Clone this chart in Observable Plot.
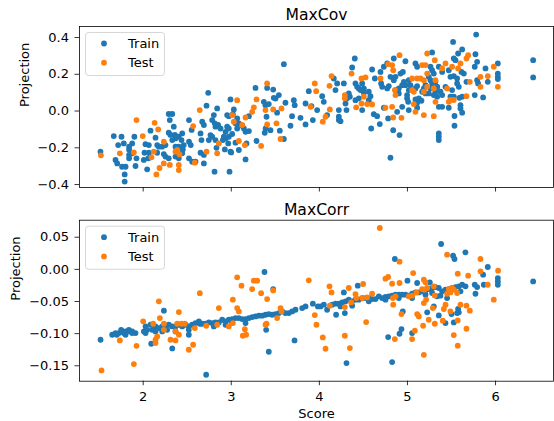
<!DOCTYPE html>
<html><head><meta charset="utf-8">
<script src="https://cdn.jsdelivr.net/npm/d3@7"></script>
<script src="https://cdn.jsdelivr.net/npm/@observablehq/plot@0.6"></script>
<style>
body{margin:0;background:#fff;}
#chart svg{display:block;}
</style></head><body><div id="chart"></div>
<script>
const seriesNames = ["Train", "Test"];
const seriesColors = ["#1f77b4", "#ff7f0e"];
const xTicks = [2, 3, 4, 5, 6];
const covTicks = [-0.4, -0.2, 0, 0.2, 0.4];
const corrTicks = [-0.15, -0.10, -0.05, 0, 0.05];
const panelTitles = ["MaxCov", "MaxCorr"];
const xLabel = "Score";
const yLabel = "Projection";

// MaxCov panel: [score, projection]
const covTrain = [
[1.515,-0.221],[1.666,-0.136],[1.754,-0.14],[1.716,-0.185],[1.78,-0.176],[1.686,-0.266],[1.705,-0.285],[1.76,-0.303],[1.80,-0.303],[1.79,-0.345],[1.79,-0.384],[1.84,-0.21],[1.84,-0.239],[1.84,-0.257],[1.84,-0.194],[1.875,-0.23],[1.875,-0.176],[1.90,-0.14],[1.924,-0.257],[1.913,-0.299],
[2.015,-0.227],[2.007,-0.266],[2.045,-0.317],[2.026,-0.18],[2.064,-0.185],[2.064,-0.227],[2.083,-0.252],[2.057,-0.257],[2.083,-0.107],[2.14,-0.145],[2.159,-0.185],[2.177,-0.194],[2.159,-0.227],[2.234,-0.234],[2.215,-0.194],[2.253,-0.185],[2.29,-0.016],[2.33,-0.016],[2.302,-0.049],[2.29,-0.118],
[2.31,-0.13],[2.347,-0.085],[2.36,-0.13],[2.367,-0.149],[2.33,-0.158],[2.253,-0.248],[2.29,-0.257],[2.404,-0.14],[2.435,-0.158],[2.443,-0.122],[2.367,-0.194],[2.404,-0.194],[2.46,-0.185],[2.45,-0.209],[2.367,-0.248],[2.404,-0.257],[2.443,-0.23],[2.52,-0.049],[2.55,-0.103],[2.52,-0.167],
[2.54,-0.185],[2.52,-0.257],[2.556,-0.276],[2.594,-0.276],
[3.597,0.255],[3.407,0.126],[3.275,0.126],[3.476,0.117],[3.54,0.087],[3.502,0.068],[3.483,0.072],[3.88,0.108],[2.738,0.099],[2.991,0.063],[3.37,0.050],[3.388,0.032],[3.426,0.038],[3.52,-0.009],[3.615,0.045],[3.71,0.059],[3.72,0.032],[3.843,0.041],[3.91,0.027],[3.975,0.005],
[3.69,-0.028],[3.786,-0.037],[3.926,-0.049],[3.843,-0.073],[3.672,-0.08],[3.40,-0.031],[3.445,-0.104],[3.39,-0.095],[3.38,-0.118],[3.551,-0.107],[3.597,-0.152],[3.286,-0.163],[3.173,-0.176],[3.162,-0.263],[3.086,-0.212],[2.991,-0.221],[2.927,-0.209],[2.965,-0.176],[3.048,-0.172],[2.935,-0.149],
[2.904,-0.158],[2.972,-0.14],[3.01,-0.125],[2.832,-0.2],[2.821,-0.158],[2.783,-0.14],[2.764,-0.131],[2.745,-0.158],[2.651,-0.227],[2.689,-0.239],[2.689,-0.285],[2.81,-0.33],[2.98,-0.33],[2.999,-0.225],[2.662,-0.158],[2.651,-0.122],[2.689,-0.076],[2.67,-0.058],[2.719,0.029],[2.84,0.014],
[2.802,-0.022],[2.813,-0.067],[2.821,-0.085],[2.851,-0.076],[2.878,-0.095],[2.783,-0.049],[2.953,-0.022],[2.972,-0.028],[3.029,0.009],[3.018,-0.017],[3.067,-0.04],[3.086,-0.067],[3.124,-0.08],[3.143,-0.095],[3.162,-0.113],[3.2,-0.109],[3.2,-0.028],[3.067,-0.095],[3.048,-0.067],[2.953,-0.085],
[2.935,-0.113],[2.972,-0.095],[2.916,-0.14],
[4.807,-0.254],[4.91,-0.131],[4.838,-0.104],[4.588,-0.095],[4.686,-0.071],[4.618,-0.017],[4.656,-0.028],[4.781,-0.04],[5.356,-0.122],[5.356,-0.14],[5.356,-0.158],[5.11,0.018],[5.015,0.005],[4.94,0.023],[4.883,-0.004],[4.732,0.018],[4.486,0.005],[4.561,0.059],[4.41,0.059],[4.297,0.041],
[4.308,0.005],[4.221,0.005],[4.221,-0.031],[4.221,-0.049],[4.24,-0.055],[4.088,-0.022],[4.05,0.05],[4.032,0.081],[4.164,0.177],[4.202,0.15],[4.183,0.114],[4.315,0.069],[4.334,0.096],[4.346,0.078],[4.278,0.15],[4.372,0.237],[4.402,0.286],[4.41,0.15],[4.429,0.132],[4.448,0.123],
[4.467,0.114],[4.486,0.15],[4.505,0.123],[4.561,0.105],[4.58,0.081],[4.505,0.099],[4.448,0.069],[4.599,0.226],[4.63,0.177],[4.701,0.15],[4.713,0.132],[4.694,0.213],[4.732,0.241],[4.77,0.259],[4.845,0.286],[4.977,0.271],[4.807,0.186],[4.845,0.168],[4.864,0.186],[4.921,0.204],
[4.948,0.213],[4.77,0.123],[4.788,0.136],[4.864,0.114],[4.902,0.123],[4.902,0.096],[4.94,0.141],[4.959,0.159],[4.977,0.141],[5.015,0.168],[5.034,0.141],[5.015,0.114],[4.996,0.087],[5.091,0.123],[5.11,0.136],[5.129,0.069],[5.091,0.063],[4.996,0.069],[5.008,0.05],[5.11,0.045],
[5.159,0.056],[5.167,0.105],[5.186,0.123],[5.091,0.259],[5.11,0.241],[5.28,0.319],[5.261,0.241],[5.28,0.222],[5.299,0.204],[5.242,0.186],[5.261,0.168],[5.28,0.15],[5.205,0.141],[5.261,0.123],[5.318,0.159],[5.337,0.132],[5.318,0.105],[5.299,0.087],[5.337,0.078],[5.242,0.096],
[5.205,0.096],[5.356,0.023],
[5.78,0.416],[5.518,0.376],[5.621,0.335],[5.575,0.313],[5.772,0.309],[5.791,0.268],[5.764,0.241],[6.026,0.259],[6.427,0.277],[6.427,0.183],[5.886,0.232],[6.026,0.204],[6.026,0.186],[6.026,0.174],[5.912,0.159],[5.791,0.168],[5.802,0.15],[5.764,0.087],[5.859,0.074],[5.67,0.159],
[5.64,0.204],[5.613,0.213],[5.545,0.277],[5.526,0.286],[5.469,0.222],[5.488,0.186],[5.526,0.19],[5.564,0.177],[5.356,0.241],[5.394,0.213],[5.432,0.132],[5.337,0.132],[5.375,0.105],[5.394,0.087],[5.507,0.114],[5.526,0.078],[5.488,0.078],[5.564,0.15],[5.583,0.132],[5.59,0.072],
[5.621,0.078],[5.469,0.018],[5.394,0.023],[5.602,0.032],[5.602,0.014],[5.621,-0.009],[5.534,-0.027],[5.534,-0.08]
];
const covTest = [
[1.52,-0.241],[1.735,-0.23],[1.894,-0.225],[1.924,-0.049],[1.995,-0.136],[2.094,-0.252],[2.12,-0.221],[2.13,-0.064],[2.17,-0.1],[2.15,-0.345],[2.185,-0.31],[2.234,-0.285],[2.234,-0.167],[2.302,-0.293],[2.404,-0.293],[2.404,-0.321],[2.367,-0.221],[2.386,-0.212],[2.412,-0.236],[2.567,-0.082],
[2.586,-0.281],[2.642,0.005],
[3.407,0.150],[3.948,0.150],[3.964,0.108],[3.067,0.059],[3.286,0.063],[3.256,0.020],[3.237,-0.004],[3.388,0.005],[3.476,0.009],[3.57,0.014],[3.9,0.023],[3.513,-0.067],[3.407,-0.073],[3.559,-0.152],[3.339,-0.19],[3.086,-0.163],[3.154,-0.185],[2.859,-0.176],
[2.84,-0.23],[2.719,-0.221],[3.01,-0.022],[3.029,-0.058],[3.124,-0.076],[3.162,-0.035],
[4.838,-0.035],[4.932,-0.037],[5.186,-0.022],[5.299,-0.028],[5.091,-0.004],[4.826,0.023],[4.75,0.018],[4.418,0.02],[4.478,0.041],[4.542,0.038],[4.599,0.036],[4.119,0.009],[4.07,-0.031],[4.039,-0.058],[4.115,0.137],[4.138,0.19],[4.289,0.087],[4.289,0.069],[4.365,0.204],[4.478,0.177],
[4.524,0.183],[4.505,0.078],[4.694,0.177],[4.781,0.255],[4.826,0.250],[4.91,0.304],[4.838,0.222],[4.864,0.087],[4.857,0.114],[5.053,0.177],[5.053,0.114],[5.072,0.105],[5.072,0.038],[5.148,0.177],[5.11,0.177],[5.186,0.168],[5.167,0.250],[5.205,0.25],[5.224,0.313],[5.31,0.277],
[5.224,0.204],[5.224,0.132],[5.318,0.05],[5.186,0.105],[5.299,0.123],
[5.689,0.304],[5.67,0.286],[5.98,0.241],[6.026,0.132],[5.912,0.19],[5.829,0.186],[5.829,0.132],[5.708,0.159],[5.602,0.259],[5.575,0.232],[5.507,0.241],[5.432,0.259],[5.394,0.232],[5.318,0.168],[5.45,0.123],[5.488,0.06],[5.526,0.06],[5.469,0.05],[5.67,0.081]
];

// MaxCorr panel: [score, projection]
const corrTrain = [
[1.516,-0.1095],[1.648,-0.1017],[1.686,-0.0991],[1.724,-0.0991],[1.762,-0.0965],[1.80,-0.0965],[1.837,-0.094],[1.875,-0.0965],[1.913,-0.0991],[1.80,-0.1017],[1.875,-0.0991],[1.70,-0.1017],[1.75,-0.094],[1.85,-0.0965],[1.78,-0.099],
[2.008,-0.0965],[2.027,-0.0887],[2.045,-0.094],[2.083,-0.0862],[2.102,-0.094],[2.14,-0.0887],[2.178,-0.0913],[2.216,-0.0887],[2.254,-0.0887],[2.291,-0.0862],[2.33,-0.0887],[2.367,-0.0887],[2.405,-0.0862],[2.443,-0.0887],[2.481,-0.0862],[2.518,-0.0887],[2.556,-0.0862],[2.594,-0.0836],[2.632,-0.081],
[2.027,-0.0991],[2.14,-0.0965],[2.216,-0.0965],[2.272,-0.094],[2.367,-0.0965],[2.518,-0.094],[2.235,-0.0643],[2.091,-0.1157],[2.33,-0.123],[2.518,-0.1017],[2.643,-0.0846],
[3.377,-0.0041],[3.476,-0.0306],[3.926,-0.0534],[3.983,-0.0576],[3.843,-0.0576],[3.805,-0.0602],[3.729,-0.0628],[3.691,-0.0654],[3.653,-0.068],[3.615,-0.068],[3.578,-0.0654],[3.54,-0.068],[3.502,-0.0695],[3.464,-0.0706],[3.426,-0.0695],[3.389,-0.0706],
[3.351,-0.0721],[3.313,-0.0721],[3.275,-0.0732],[3.237,-0.0742],[3.2,-0.0758],[3.162,-0.0773],[3.124,-0.0773],[3.086,-0.0758],[3.048,-0.0758],[3.01,-0.0773],[2.972,-0.0784],[2.935,-0.081],[2.897,-0.0784],[2.859,-0.0825],[2.821,-0.0825],[2.783,-0.0836],[2.745,-0.0825],[2.708,-0.0846],[2.67,-0.0846],
[3.01,-0.0825],[2.935,-0.0862],[3.162,-0.0836],[2.802,-0.0887],[3.396,-0.094],[3.426,-0.1282],[3.718,-0.1105],[2.715,-0.164],
[4.857,0.0161],[5.0,-0.0176],[5.254,-0.0202],[5.11,-0.0212],[4.436,-0.0254],[4.278,-0.0358],
[4.013,-0.0576],[4.051,-0.055],[4.088,-0.0628],[4.145,-0.055],[4.183,-0.0534],[4.221,-0.0534],[4.259,-0.0514],[4.297,-0.0498],[4.334,-0.0472],[4.372,-0.0498],[4.41,-0.0472],[4.448,-0.0472],[4.486,-0.0446],[4.524,-0.0446],[4.561,-0.0446],[4.599,-0.0462],[4.637,-0.0462],[4.675,-0.042],[4.713,-0.0446],[4.751,-0.043],
[4.788,-0.042],[4.826,-0.041],[4.864,-0.0394],[4.902,-0.0394],[4.94,-0.0394],[4.977,-0.0394],[5.015,-0.041],[5.053,-0.0379],[5.091,-0.0358],[5.129,-0.0358],[5.167,-0.0342],[5.205,-0.0327],[5.242,-0.0306],[5.28,-0.029],[5.318,-0.0275],[5.356,-0.029],
[4.24,-0.0576],[4.372,-0.0565],[4.561,-0.0498],[4.751,-0.0472],[4.902,-0.0446],[5.053,-0.0446],[5.205,-0.0394],[5.28,-0.0368],[5.299,-0.0576],[5.224,-0.0669],[4.947,-0.0654],[5.053,-0.0991],[4.932,-0.0929],[4.91,-0.1002],[4.781,-0.1053],[4.826,-0.1443],[4.308,-0.1458],[4.19,-0.0706],[4.289,-0.068],
[5.382,0.0395],[5.658,0.0265],[5.518,0.0213],[5.534,0.0161],[5.912,0.0037],[5.859,-0.0083],[6.026,-0.0135],[6.026,-0.0187],[6.026,-0.0239],[6.427,-0.0187],[5.867,-0.0239],[5.764,-0.0239],[5.791,-0.0275],[5.772,-0.0379],[5.394,-0.0342],[5.432,-0.0316],[5.469,-0.0306],[5.507,-0.029],[5.545,-0.0275],[5.583,-0.0264],
[5.621,-0.0239],[5.659,-0.0264],[5.602,-0.0342],[5.337,-0.042],[5.375,-0.041],[5.45,-0.0446],[5.575,-0.0617],[5.583,-0.0669],[5.564,-0.068],[5.356,-0.0716],[5.5,-0.0695],[5.432,-0.0836],[5.526,-0.0825]
];
const corrTest = [
[1.527,-0.1573],[1.735,-0.1105],[1.924,-0.119],[1.894,-0.1474],[2.0,-0.0809],[2.114,-0.0846],[2.178,-0.0498],[2.189,-0.0758],[2.235,-0.0846],[2.235,-0.094],[2.405,-0.0664],[2.14,-0.1095],[2.159,-0.1043],[2.14,-0.1147],[2.31,-0.1095],[2.367,-0.1105],[2.367,-0.0965],[2.405,-0.1017],[2.567,-0.1173],[2.518,-0.1251],
[2.386,-0.0846],[2.435,-0.0846],[2.473,-0.0846],[2.586,-0.0913],[2.643,-0.037],
[3.067,-0.0124],[3.116,-0.0254],[3.256,-0.0176],[3.294,-0.0176],[3.237,-0.0306],[3.339,-0.037],[3.476,-0.0327],[3.407,-0.0462],[3.018,-0.0472],[2.859,-0.0602],[3.067,-0.0602],[3.086,-0.0654],[3.88,-0.0171],[3.559,-0.0602],[3.57,-0.0654],[3.521,-0.0758],[2.715,-0.0877],[2.84,-0.0862],[2.972,-0.0887],[3.018,-0.0836],
[3.154,-0.093],[3.169,-0.1017],[3.131,-0.1033],[3.40,-0.0846],[3.389,-0.0862],[3.948,-0.0711],[3.967,-0.0862],
[4.686,0.0644],[4.91,0.012],[5.065,-0.0057],[4.75,-0.0145],[4.781,-0.0119],[4.91,-0.0212],[4.826,-0.0223],[5.186,-0.0161],[5.205,-0.0202],[5.299,-0.0264],[4.115,-0.0264],[4.138,-0.0358],[4.334,-0.029],[4.497,-0.0228],[4.41,-0.0384],[4.119,-0.0565],[4.289,-0.0587],[4.361,-0.0514],[4.418,-0.0446],[4.486,-0.0446],
[4.542,-0.0436],[4.599,-0.0379],[4.834,-0.0446],[4.864,-0.042],[4.838,-0.055],[5.015,-0.042],[5.053,-0.041],[5.103,-0.0358],[5.167,-0.0306],[5.193,-0.0316],[5.224,-0.029],[5.186,-0.0524],[5.212,-0.0472],[5.31,-0.0405],[5.288,-0.0602],[4.932,-0.0695],[5.11,-0.0695],[5.129,-0.0732],[5.242,-0.0784],[5.178,-0.0877],
[5.31,-0.0846],[5.084,-0.0955],[5.053,-0.1085],[4.857,-0.1085],[5.186,-0.133],[4.346,-0.1225],[4.289,-0.1033],[4.039,-0.1059],[4.07,-0.1235],[4.531,-0.082],
[5.45,0.0229],[5.829,0.0161],[6.029,-0.002],[5.829,-0.0031],[5.571,-0.0067],[5.689,-0.0098],[5.912,-0.0239],[5.98,-0.0472],[5.469,-0.0306],[5.507,-0.029],[5.526,-0.0316],[5.488,-0.0358],[5.45,-0.0379],[5.564,-0.0368],[5.432,-0.055],[5.413,-0.0617],[5.602,-0.055],[5.67,-0.0565],[5.708,-0.0643],[5.488,-0.0654],
[5.401,-0.0799],[5.571,-0.0794],[5.67,-0.0924],[5.526,-0.1022],[5.571,-0.1188]
];

const xDomain = [1.277, 6.658];
const FONT = "DejaVu Sans";

function panel(o) {
  const ML = 79;
  const marks = [
    Plot.dot(o.train, {x: d => d[0], y: d => d[1], r: 2.9, fill: seriesColors[0]}),
    Plot.dot(o.test, {x: d => d[0], y: d => d[1], r: 2.9, fill: seriesColors[1]}),
    Plot.frame({stroke: "black", strokeWidth: 0.8}),
    Plot.axisX({ticks: xTicks, tickSize: 4.5, tickPadding: 6.5, strokeWidth: 0.8,
      tickFormat: o.showX ? (d => String(d)) : (() => ""), label: null}),
    Plot.axisY({ticks: o.yTicks, tickSize: 4.5, tickPadding: 6, strokeWidth: 0.8,
      tickFormat: d3.format(o.yFmt), label: null}),
    Plot.text([o.title], {text: d => d, frameAnchor: "top", dy: -o.titleGap, lineAnchor: "bottom", fontSize: 15.6}),
    Plot.text([yLabel], {text: d => d, frameAnchor: "left", dx: o.yLabelDx, rotate: -90, lineAnchor: "top"})
  ];
  if (o.showX) marks.push(Plot.text([xLabel], {text: d => d, frameAnchor: "bottom", dy: 37, lineAnchor: "bottom"}));
  const svg = Plot.plot({
    width: 554, height: o.height,
    marginLeft: ML, marginRight: 1, marginTop: o.mt, marginBottom: o.mb,
    x: {domain: xDomain},
    y: {domain: o.yDomain},
    style: {fontFamily: FONT, fontSize: "13px", color: "black", background: "white", overflow: "visible"},
    marks
  });
  const g = d3.select(svg).append("g").attr("font-family", FONT).attr("font-size", 13).attr("text-anchor", "start");
  g.append("rect").attr("x", ML + 6.5).attr("y", o.mt + 6.5).attr("width", 79).attr("height", 43)
    .attr("rx", 3).attr("fill", "white").attr("fill-opacity", 0.8)
    .attr("stroke", "#cccccc").attr("stroke-width", 0.8);
  seriesNames.forEach((name, i) => {
    const cy = o.mt + 17.5 + i * 19.2;
    g.append("circle").attr("cx", ML + 25).attr("cy", cy).attr("r", 2.9).attr("fill", seriesColors[i]);
    g.append("text").attr("x", ML + 49).attr("y", cy).attr("dy", "0.36em").attr("text-anchor", "start").attr("fill", "black").text(name);
  });
  return svg;
}

const root = document.getElementById("chart");
root.appendChild(panel({title: panelTitles[0], train: covTrain, test: covTest, yDomain: [-0.416, 0.46],
  yTicks: covTicks, yFmt: ".1f", height: 196, mt: 26, mb: 9, showX: false, titleGap: 7, yLabelDx: -60}));
root.appendChild(panel({title: panelTitles[1], train: corrTrain, test: corrTest, yDomain: [-0.174, 0.0765],
  yTicks: corrTicks, yFmt: ".2f", height: 225, mt: 23.7, mb: 40.3, showX: true, titleGap: 5.7, yLabelDx: -69}));
</script></body></html>
